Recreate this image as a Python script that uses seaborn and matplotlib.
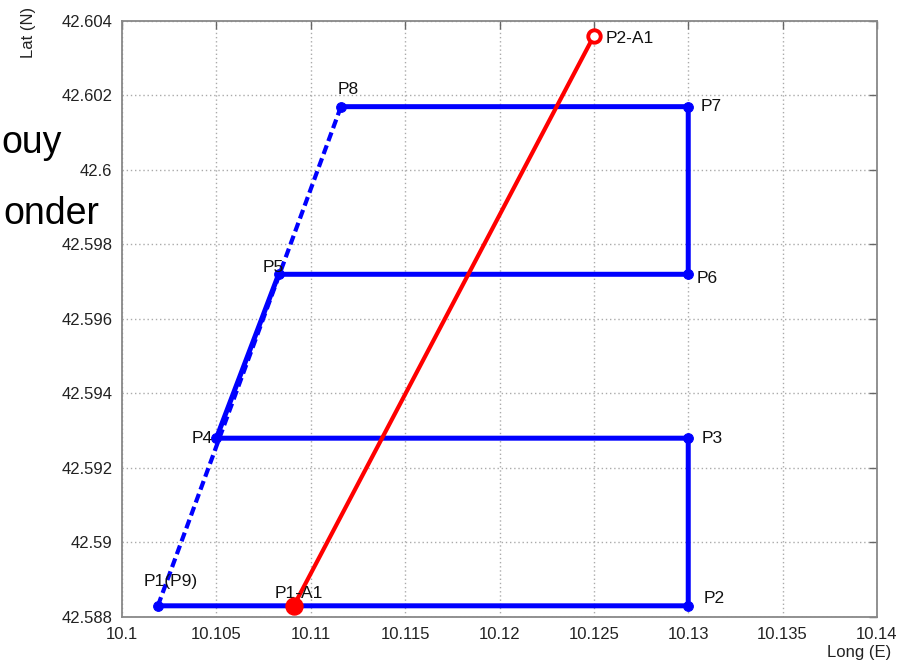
import matplotlib
matplotlib.use("Agg")
import matplotlib.pyplot as plt
import seaborn as sns
import pandas as pd

# Survey route waypoints (longitude E, latitude N)
route_names = ["P1(P9)", "P2", "P3", "P4", "P5", "P6", "P7", "P8"]
route_lon = [10.1019, 10.1300, 10.1300, 10.1050, 10.1083, 10.1300, 10.1300, 10.1116]
route_lat = [42.5883, 42.5883, 42.5928, 42.5928, 42.5972, 42.5972, 42.6017, 42.6017]

# Straight transect A1
a1_names = ["P1-A1", "P2-A1"]
a1_lon = [10.1091, 10.1250]
a1_lat = [42.5883, 42.6036]

# Axis ticks
x_ticks = [10.100, 10.105, 10.110, 10.115, 10.120, 10.125, 10.130, 10.135, 10.140]
x_tick_labels = ["10.1", "10.105", "10.11", "10.115", "10.12", "10.125", "10.13", "10.135", "10.14"]
y_ticks = [42.588, 42.590, 42.592, 42.594, 42.596, 42.598, 42.600, 42.602, 42.604]
y_tick_labels = ["42.588", "42.59", "42.592", "42.594", "42.596", "42.598", "42.6", "42.602", "42.604"]

sns.set_style("white")
plt.rcParams["font.family"] = ["Liberation Sans", "DejaVu Sans"]

fig = plt.figure(figsize=(9.14, 6.62), dpi=100)
ax = fig.add_axes([0.1335, 0.068, 0.826, 0.9003])

route = pd.DataFrame({"lon": route_lon, "lat": route_lat, "name": route_names})
closing = pd.DataFrame({"lon": [route_lon[-1], route_lon[0]],
                        "lat": [route_lat[-1], route_lat[0]]})
a1 = pd.DataFrame({"lon": a1_lon, "lat": a1_lat, "name": a1_names})

# Closing leg back to the start (dashed)
sns.lineplot(data=closing, x="lon", y="lat", sort=False, estimator=None, ax=ax,
             color="#0000ff", linewidth=3.0, linestyle=(0, (2.2, 1.1)), zorder=3)
# Main route
sns.lineplot(data=route, x="lon", y="lat", sort=False, estimator=None, ax=ax,
             color="#0000ff", linewidth=3.6, marker="o", markersize=7,
             markeredgecolor="#0000ff", zorder=4)
# Transect A1
sns.lineplot(data=a1, x="lon", y="lat", sort=False, estimator=None, ax=ax,
             color="#ff0000", linewidth=3.0, zorder=5)
sns.scatterplot(x=a1_lon[:1], y=a1_lat[:1], ax=ax, color="#ff0000", s=150,
                edgecolor="#ff0000", zorder=7)
sns.scatterplot(x=a1_lon[1:], y=a1_lat[1:], ax=ax, facecolor="white", s=80,
                edgecolor="#ff0000", linewidth=2.8, zorder=7)

# Point labels
offsets = {
    "P1(P9)": (13, -24, "center"),
    "P2": (15, -7, "left"),
    "P3": (13, 0, "left"),
    "P4": (-4, 0, "right"),
    "P5": (5, -7, "right"),
    "P6": (8, 4, "left"),
    "P7": (12, 0, "left"),
    "P8": (7, -17, "center"),
}
for name, lon, lat in zip(route_names, route_lon, route_lat):
    dx, dy, ha = offsets[name]
    ax.annotate(name, (lon, lat), xytext=(dx, -dy), textcoords="offset pixels",
                ha=ha, va="center", fontsize=12.5, color="#111111", zorder=6)
a1_offsets = {"P1-A1": (5, -12, "center"), "P2-A1": (12, 3, "left")}
for name, lon, lat in zip(a1_names, a1_lon, a1_lat):
    dx, dy, ha = a1_offsets[name]
    ax.annotate(name, (lon, lat), xytext=(dx, -dy), textcoords="offset pixels",
                ha=ha, va="center", fontsize=12.5, color="#111111", zorder=6)

ax.set_xlim(10.1, 10.14)
ax.set_ylim(42.588, 42.604)
ax.set_xticks(x_ticks)
ax.set_xticklabels(x_tick_labels)
ax.set_yticks(y_ticks)
ax.set_yticklabels(y_tick_labels)
ax.tick_params(direction="in", length=6, width=1, color="#666666",
               top=True, right=True, labelsize=12, labelcolor="#222222", pad=7)
ax.grid(True, color="#aaaaaa", linestyle=(0, (1, 2)), linewidth=1.0)
for s in ax.spines.values():
    s.set_color("#888888")
    s.set_linewidth(1.3)

ax.set_xlabel("Long (E)", fontsize=12, color="#222222")
ax.set_ylabel("Lat (N)", fontsize=12, color="#222222")
ax.xaxis.set_label_coords(0.976, -0.047)
ax.yaxis.set_label_coords(-0.114, 0.9815)

# Legend fragments at the left margin
fig.text(0.068, 1 - 153 / 662, "ouy", ha="right", va="baseline", fontsize=27, color="black")
fig.text(0.109, 1 - 224 / 662, "onder", ha="right", va="baseline", fontsize=27, color="black")

fig.savefig("out.png", dpi=100)
